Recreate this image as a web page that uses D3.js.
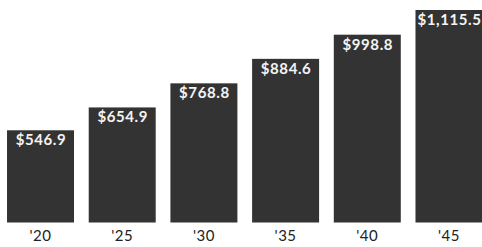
<!DOCTYPE html>
<html>
<head>
<meta charset="utf-8">
<script src="https://cdn.jsdelivr.net/npm/d3@7"></script>
<style>
  body { margin: 0; background: #fff; }
  svg { display: block; }
</style>
</head>
<body>
<script>
// chart data
var years = ["'20", "'25", "'30", "'35", "'40", "'45"];
var values = [546.9, 654.9, 768.8, 884.6, 998.8, 1115.5];
var valueLabels = ["$546.9", "$654.9", "$768.8", "$884.6", "$998.8", "$1,115.5"];

var width = 482,
    height = 247;

var svg = d3.select("body").append("svg")
    .attr("width", width)
    .attr("height", height);

// x scale: one band per year
var x = d3.scaleBand()
    .domain(years)
    .range([0, 489.5])
    .paddingInner(0.18)
    .paddingOuter(0.086);

// y scale: baseline is not zero in the original
var y = d3.scaleLinear()
    .domain([111, 1115.5])
    .range([222.5, 10]);

var rows = years.map(function (d, i) {
    return {year: d, value: values[i], label: valueLabels[i]};
});

// bars
svg.append("g")
    .selectAll("rect")
    .data(rows)
    .enter().append("rect")
    .attr("x", function (d) { return x(d.year); })
    .attr("y", function (d) { return y(d.value); })
    .attr("width", x.bandwidth())
    .attr("height", function (d) { return y.range()[0] - y(d.value); })
    .style("fill", "#333333");

// value labels inside bar tops
svg.append("g")
    .selectAll("text")
    .data(rows)
    .enter().append("text")
    .attr("x", function (d) { return x(d.year) + x.bandwidth() / 2 + 0.5; })
    .attr("y", function (d) { return y(d.value) + 15; })
    .attr("text-anchor", "middle")
    .style("font-family", "Lato, 'Open Sans', sans-serif")
    .style("font-weight", "bold")
    .style("font-size", "15px")
    .style("letter-spacing", "0.6px")
    .style("fill", "#f4f4f4")
    .text(function (d) { return d.label; });

// year axis, no line or ticks
var xAxis = svg.append("g")
    .attr("transform", "translate(0," + y.range()[0] + ")")
    .call(d3.axisBottom(x).tickSize(0).tickPadding(8));
xAxis.select(".domain").remove();
xAxis.selectAll("text")
    .style("font-family", "Lato, 'Open Sans', sans-serif")
    .style("font-size", "15px")
    .style("letter-spacing", "0.5px")
    .style("fill", "#222");
</script>
</body>
</html>
